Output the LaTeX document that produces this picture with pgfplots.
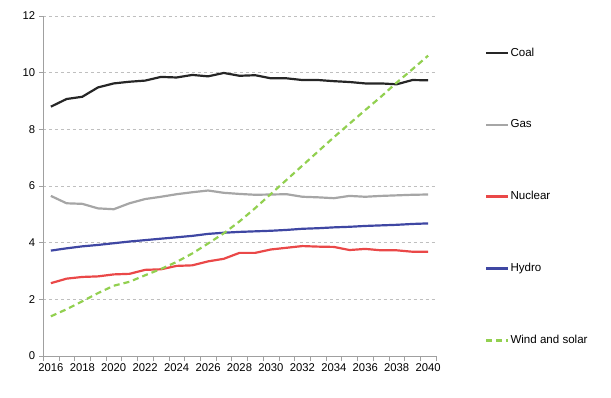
\documentclass[border=0pt]{standalone}
\usepackage{pgfplots}
\pgfplotsset{compat=1.18}
\usepackage{fontspec}
\setmainfont{Liberation Sans}
\definecolor{coalc}{HTML}{262626}
\definecolor{gasc}{HTML}{A6A6A6}
\definecolor{nucc}{HTML}{EA4848}
\definecolor{hydc}{HTML}{3F47A3}
\definecolor{winc}{HTML}{92D050}
\definecolor{axc}{HTML}{A0A0A0}
\pgfplotstableread{
year coal gas nuclear hydro wind
2016 8.80 5.65 2.57 3.72 1.40
2017 9.07 5.39 2.73 3.80 1.65
2018 9.15 5.37 2.79 3.87 1.93
2019 9.48 5.21 2.81 3.92 2.22
2020 9.62 5.18 2.88 3.98 2.48
2021 9.68 5.39 2.90 4.04 2.62
2022 9.72 5.54 3.04 4.09 2.85
2023 9.85 5.62 3.06 4.14 3.07
2024 9.83 5.71 3.18 4.19 3.32
2025 9.92 5.78 3.20 4.24 3.62
2026 9.87 5.84 3.34 4.31 3.97
2027 9.99 5.76 3.43 4.35 4.33
2028 9.89 5.72 3.64 4.38 4.75
2029 9.91 5.69 3.64 4.40 5.22
2030 9.80 5.70 3.76 4.42 5.72
2031 9.80 5.71 3.82 4.45 6.22
2032 9.74 5.62 3.88 4.49 6.72
2033 9.74 5.60 3.86 4.51 7.22
2034 9.70 5.57 3.85 4.54 7.72
2035 9.67 5.65 3.74 4.56 8.20
2036 9.62 5.62 3.78 4.59 8.68
2037 9.62 5.65 3.73 4.61 9.15
2038 9.59 5.67 3.73 4.63 9.65
2039 9.74 5.69 3.68 4.66 10.12
2040 9.73 5.70 3.68 4.68 10.60
}\datatable
\begin{document}
\fontsize{11}{13}\selectfont
\begin{tikzpicture}
\begin{axis}[
  name=ax,
  scale only axis,
  width=393bp, height=340bp,
  xmin=2015.5, xmax=2040.5,
  ymin=0, ymax=12,
  xtick={2016,2018,...,2040},
  minor xtick={2015.5,2016.5,...,2040.5},
  ytick={0,2,...,12},
  xticklabel style={/pgf/number format/1000 sep={}},
  /pgf/number format/assume math mode=true,
  major x tick style={draw=none},
  minor x tick style={axc, thin},
  minor tick length=5bp,
  major tick length=4bp,
  y tick style={axc, thin},
  tick align=outside,
  axis x line*=bottom,
  axis y line*=left,
  axis line style={axc, line width=0.8pt},
  ymajorgrids,
  y grid style={gray!50, dashed, thin},
  tick label style={font=\fontsize{11.3}{13}\selectfont},
  legend cell align=left,
  legend style={at={(axis description cs:1.125,0.91)}, anchor=north west,
    draw=none, fill=none, row sep=60bp, font=\fontsize{11.6}{13}\selectfont,
    inner sep=0pt, nodes={inner sep=1pt}},
  legend image code/.code={\draw[#1] (0bp,0bp) -- (22bp,0bp);},
  every axis plot/.append style={line width=2.2pt},
]
\addplot[coalc] table[x=year,y=coal]{\datatable};
\addlegendentry{Coal}
\addplot[gasc] table[x=year,y=gas]{\datatable};
\addlegendentry{Gas}
\addplot[nucc] table[x=year,y=nuclear]{\datatable};
\addlegendentry{Nuclear}
\addplot[hydc] table[x=year,y=hydro]{\datatable};
\addlegendentry{Hydro}
\addplot[winc, dash pattern=on 6bp off 4bp] table[x=year,y=wind]{\datatable};
\addlegendentry{Wind and solar}
\end{axis}
\path (ax.south west) ++(-43bp,-42bp) rectangle ++(611bp,398bp);
\end{tikzpicture}
\end{document}
